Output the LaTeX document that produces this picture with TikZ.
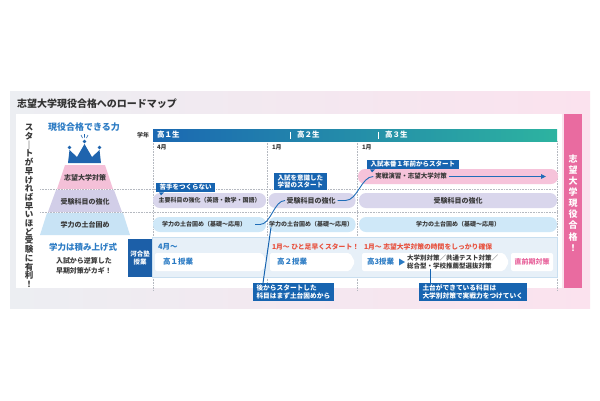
\documentclass[tikz,border=0pt]{standalone}
\usepackage{fontspec}
\setmainfont{Noto Sans CJK JP}
\usetikzlibrary{arrows.meta}
\newcommand{\myfs}[1]{\fontsize{#1}{#1}\selectfont}
\newcommand{\myfsb}[2]{\fontsize{#1}{#2}\selectfont}
\definecolor{titlec}{HTML}{333333}
\definecolor{darkt}{HTML}{3A3A3A}
\definecolor{cb}{HTML}{1764B0}
\definecolor{cl}{HTML}{1F6DB8}
\definecolor{blueT}{HTML}{2B7BC4}
\definecolor{redT}{HTML}{E8523F}
\definecolor{pinkT}{HTML}{E8649C}
\definecolor{pillP}{HTML}{F6C3DA}
\definecolor{pillL}{HTML}{D9D6EC}
\definecolor{pillB}{HTML}{CFE8F8}
\definecolor{pyP}{HTML}{F4C0D8}
\definecolor{pyL}{HTML}{D2CEE8}
\definecolor{pyB}{HTML}{C8E3F5}
\definecolor{crownc}{HTML}{1F64AE}
\definecolor{hdL}{HTML}{1B68B2}
\definecolor{hdM}{HTML}{1D7FB8}
\definecolor{hdR}{HTML}{2DB3A0}
\definecolor{kawaic}{HTML}{1C5FA8}
\definecolor{bandF}{HTML}{E7F0F8}
\definecolor{bandD}{HTML}{C9DFF0}
\definecolor{bgL}{HTML}{ECEEF2}
\definecolor{bgR}{HTML}{FBE2EE}
\definecolor{pinkbar}{HTML}{E96BA0}
\definecolor{dotc}{HTML}{B5B9C0}
\begin{document}
\begin{tikzpicture}[x=1pt,y=-1pt,
  every node/.style={inner sep=0pt, outer sep=0pt},
  pill/.style={rounded corners=7pt, minimum height=15pt, anchor=west, font=\bfseries\myfs{6}, text=darkt},
  pylabel/.style={font=\bfseries\myfs{7}, text=darkt},
  callout/.style={fill=cb, text=white, font=\bfseries\myfsb{6.7}{7.6}, inner xsep=3.5pt, inner ysep=1.8pt, align=left, anchor=north west},
  conn/.style={draw=cl, line width=0.9pt},
  dots/.style={draw=dotc, densely dotted, line width=0.6pt},
  hdtext/.style={anchor=west, text=white, font=\bfseries\myfs{7.5}},
  month/.style={anchor=west, text=darkt, font=\bfseries\myfs{6}},
  whitebox/.style={fill=white, rounded corners=2pt}]
\useasboundingbox (0,0) rectangle (600,400);
\fill[white] (0,0) rectangle (600,400);
% background panels
\shade[left color=bgL, right color=bgR] (10,91) rectangle (590,308);
\fill[white] (16,114) rectangle (562,288);
\fill[pinkbar] (564,114) rectangle (582,288);
\node[text=white, font=\bfseries\myfsb{9}{11.1}, align=center] (goal) at (573,203) {志\\望\\大\\学\\現\\役\\合\\格\\！};
% title
\node[anchor=west, font=\bfseries\myfs{10}, text=titlec] (title) at (17,104) {志望大学現役合格へのロードマップ};
% left vertical text
\node[font=\bfseries\myfsb{8.5}{8.7}, align=center, text=darkt] (side) at (29,206) {ス\\タ\\｜\\ト\\が\\早\\け\\れ\\ば\\早\\い\\ほ\\ど\\受\\験\\に\\有\\利\\！};
% dotted grid
\draw[dots] (40,189.5) -- (557,189.5);
\draw[dots] (40,212.5) -- (557,212.5);
\draw[dots] (153,141) -- (153,290);
\draw[dots] (267,141) -- (267,290);
\draw[dots] (357,141) -- (357,290);
\draw[dots] (557,141) -- (557,290);
% header
\shade[left color=hdL, middle color=hdM, right color=hdR] (153,129) rectangle (557,141);
\node[font=\bfseries\myfs{6}, text=darkt] (gakunen) at (143,135) {学年};
\node[hdtext] (g1) at (157,135) {高１生};
\draw[white, line width=0.6pt] (290,131.5) -- (290,138.5);
\node[hdtext] (g2) at (297,135) {高２生};
\draw[white, line width=0.6pt] (378,131.5) -- (378,138.5);
\node[hdtext] (g3) at (385,135) {高３生};
\node[month] (m1) at (157,147.5) {4月};
\node[month] (m2) at (272,147.5) {1月};
\node[month] (m3) at (362,147.5) {1月};
% pyramid
\node[text=blueT, font=\bfseries\myfs{9}] (power) at (84,127) {現役合格できる力};
\fill[crownc] (68,163) -- (69.5,150) -- (77,157) -- (84.5,144) -- (92,157) -- (99.5,150) -- (101,163) -- cycle;
\fill[crownc] (69.5,147.5) circle (1.8) (84.5,141.5) circle (1.8) (99.5,147.5) circle (1.8);
\draw[crownc, line width=0.6pt] (84.5,134) -- (84.5,137.5) (81,135) -- (82.5,138) (88,135) -- (86.5,138);
\fill[pyP] (65,165) -- (105,165) -- (113,189) -- (57,189) -- cycle;
\fill[pyL] (56,190) -- (114,190) -- (122,212) -- (48,212) -- cycle;
\fill[pyB] (47,213) -- (123,213) -- (130,235) -- (40,235) -- cycle;
\node[pylabel] (py1) at (85,177.5) {志望大学対策};
\node[pylabel] (py2) at (85,201.5) {受験科目の強化};
\node[pylabel] (py3) at (85,224.5) {学力の土台固め};
% row 1
\node[pill, fill=pillP, minimum width=200pt] (r1) at (358,176.5) {};
\node[font=\bfseries\myfs{6.5}, text=darkt] (r1t) at (411,176.5) {実戦演習・志望大学対策};
\coordinate (r1end) at (546,176.5);
\draw[conn, -{Triangle[length=5pt,width=4.5pt]}] ([xshift=2pt]r1t.east) -- (r1end);
% row 2
\node[pill, fill=pillL, minimum width=113pt] (r2a) at (153,200.5) {主要科目の強化（英語・数学・国語）};
\node[pill, fill=pillL, minimum width=87pt] (r2b) at (268.5,200.5) {};
\node[font=\bfseries\myfs{7}, text=darkt] (r2bt) at (311,200.5) {受験科目の強化};
\node[pill, fill=pillL, minimum width=198pt, font=\bfseries\myfs{7}] (r2c) at (359,200.5) {受験科目の強化};
% row 3
\node[pill, fill=pillB, minimum width=113pt] (r3a) at (153,224.5) {};
\node[font=\bfseries\myfs{6}, text=darkt] (r3at) at (204,224.5) {学力の土台固め（基礎〜応用）};
\node[pill, fill=pillB, minimum width=87pt] (r3b) at (268.5,224.5) {};
\node[font=\bfseries\myfs{6}, text=darkt] (r3bt) at (311,224.5) {学力の土台固め（基礎〜応用）};
\node[pill, fill=pillB, minimum width=198pt] (r3c) at (359,224.5) {学力の土台固め（基礎〜応用）};
% connectors
\draw[conn] ([xshift=9pt]r3at.east) -- ++(5,0) .. controls +(11,0) and +(-11,0) .. ([xshift=-1.5pt]r2bt.west);
\draw[conn] ([xshift=2pt]r2bt.east) -- ++(8,0) .. controls +(12,0) and +(-12,0) .. ([xshift=-2pt]r1t.west);
% callouts (top)
\node[callout, font=\bfseries\myfs{6.5}] (cK) at (156,182.5) {苦手をつくらない};
\fill[cb] ([xshift=3pt]cK.south west) -- ++(5,0) -- ++(-3,3) -- cycle;
\node[callout, font=\bfseries\myfsb{6.5}{7.5}] (cS) at (274,173) {入試を意識した\\学習のスタート};
\node[callout, font=\bfseries\myfs{6.5}] (cN) at (367,159.5) {入試本番１年前からスタート};
\fill[cb] ([xshift=3pt]cN.south west) -- ++(5,0) -- ++(-3,3) -- cycle;
% bottom band
\node[draw=bandD, fill=bandF, minimum width=405pt, minimum height=40pt, anchor=north west] (band) at (152,237) {};
\node[fill=kawaic, minimum width=24pt, minimum height=38pt, anchor=north west, text=white, font=\bfseries\myfsb{6.5}{8.5}, align=center] (kawai) at (128,239) {河合塾\\授業};
\node[anchor=west, text=blueT, font=\bfseries\myfs{7.5}] (t1) at (158,246.5) {4月〜};
\node[anchor=west, text=redT, font=\bfseries\myfs{6.8}] (t2) at (272,246.5) {1月〜\ ひと足早くスタート！};
\node[anchor=west, text=redT, font=\bfseries\myfs{6.8}] (t3h) at (364,246.5) {1月〜\ 志望大学対策の時間をしっかり確保};
\fill[whitebox] (155,253) -- (262,253) -- (267,262) -- (262,271) -- (155,271) -- cycle;
\fill[whitebox] (270,253) -- (350,253) -- (355,262) -- (350,271) -- (270,271) -- cycle;
\fill[whitebox] (362,253) -- (504,253) -- (509,262) -- (504,271) -- (362,271) -- cycle;
\fill[whitebox] (511,253) rectangle (553,271);
\node[anchor=west, text=blueT, font=\bfseries\myfs{7.5}] (k1) at (163,262) {高１授業};
\node[anchor=west, text=blueT, font=\bfseries\myfs{7.5}] (k2) at (277,262) {高２授業};
\node[anchor=west, text=blueT, font=\bfseries\myfs{7.5}] (k3) at (367,262) {高3授業};
\fill[blueT] (399,258.5) -- (405,262) -- (399,265.5) -- cycle;
\node[anchor=west, text=darkt, font=\bfseries\myfsb{6.5}{8}, align=left] (t3) at (407,262) {大学別対策／共通テスト対策／\\総合型・学校推薦型選抜対策};
\node[text=pinkT, font=\bfseries\myfs{7}] (k4) at (532,262) {直前期対策};
% left lower text
\node[text=blueT, font=\bfseries\myfs{8.5}] (stack) at (83,247.5) {学力は積み上げ式};
\node[text=darkt, font=\bfseries\myfsb{7}{10}, align=center] (gyaku) at (84,266) {入試から逆算した\\早期対策がカギ！};
% bottom callouts
\node[callout] (cA) at (253,283) {後からスタートした\\科目はまず土台固めから};
\node[callout] (cB) at (419,283) {土台ができている科目は\\大学別対策で実戦力をつけていく};
\draw[cb, line width=1pt] ([xshift=10pt]cA.north west) -- ([xshift=2pt]r3bt.south west);
\coordinate (cBt) at ([xshift=11pt]cB.north west);
\draw[cb, line width=1pt] (cBt) -- (cBt |- t3.south);
\end{tikzpicture}
\end{document}
